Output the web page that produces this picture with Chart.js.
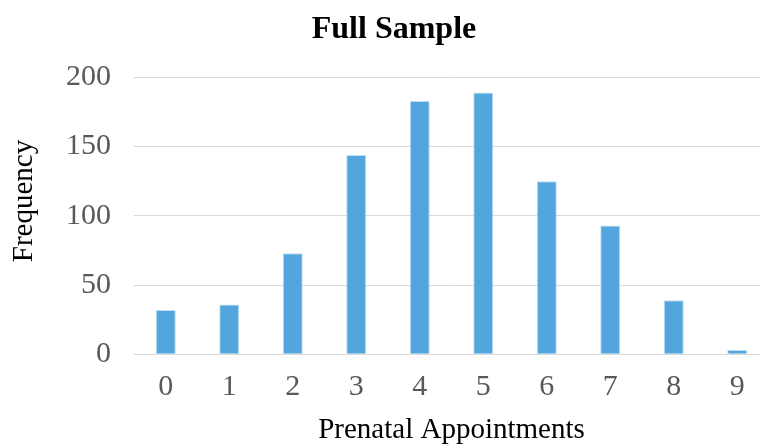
<!DOCTYPE html>
<html>
<head>
<meta charset="utf-8">
<script src="https://cdn.jsdelivr.net/npm/chart.js@4"></script>
<style>
  html, body { margin: 0; padding: 0; background: #fff; overflow: hidden; }
  #wrap { width: 790px; height: 448px; }
</style>
</head>
<body>
<div id="wrap"><canvas id="chart" width="790" height="448"></canvas></div>
<script>
// Data
const appointments = ['0', '1', '2', '3', '4', '5', '6', '7', '8', '9'];
const frequency = [32, 36, 73, 144, 183, 189, 125, 93, 39, 3];
const yTicks = [0, 50, 100, 150, 200];

const serif = "'Liberation Serif', 'Times New Roman', serif";

// y axis title sits a bit above the plot's middle in the original,
// so it is drawn here instead of by the scale
const yTitlePlugin = {
  id: 'yTitle',
  afterDraw(chart) {
    const c = chart.ctx;
    c.save();
    c.translate(24, 201);
    c.rotate(-Math.PI / 2);
    c.font = '29px ' + serif;
    c.fillStyle = '#000';
    c.textAlign = 'center';
    c.textBaseline = 'middle';
    c.fillText('Frequency', 0, 0);
    c.restore();
  }
};

const ctx = document.getElementById('chart').getContext('2d');

new Chart(ctx, {
  type: 'bar',
  data: {
    labels: appointments,
    datasets: [{
      label: 'Frequency',
      data: frequency,
      backgroundColor: '#53a6dd',
      borderColor: 'rgba(190, 222, 245, 1)',
      borderWidth: 1,
      barPercentage: 0.315,
      categoryPercentage: 1
    }]
  },
  plugins: [yTitlePlugin],
  options: {
    responsive: false,
    animation: false,
    layout: {
      padding: { left: 19, right: 21, top: 6, bottom: 0 }
    },
    plugins: {
      legend: { display: false },
      tooltip: { enabled: false },
      title: {
        display: true,
        text: 'Full Sample',
        color: '#000',
        font: { family: serif, size: 32, weight: 'bold' },
        padding: { top: 5, bottom: 28 }
      }
    },
    scales: {
      x: {
        grid: { display: false, drawTicks: false },
        border: { display: true, color: '#d9d9d9', width: 1 },
        ticks: {
          color: '#595959',
          font: { family: serif, size: 30 },
          padding: 15
        },
        title: {
          display: true,
          text: 'Prenatal Appointments',
          color: '#000',
          font: { family: serif, size: 29 },
          padding: { top: -7, bottom: 0 }
        }
      },
      y: {
        min: 0,
        max: 200,
        afterBuildTicks: axis => {
          axis.ticks = yTicks.map(v => ({ value: v }));
        },
        // leave room for the hand-drawn title on the left
        afterFit: axis => {
          axis.width = 115;
        },
        grid: { color: '#d9d9d9', lineWidth: 1, drawTicks: false },
        border: { display: false },
        ticks: {
          color: '#595959',
          font: { family: serif, size: 30 },
          padding: 23
        }
      }
    }
  }
});
</script>
</body>
</html>
